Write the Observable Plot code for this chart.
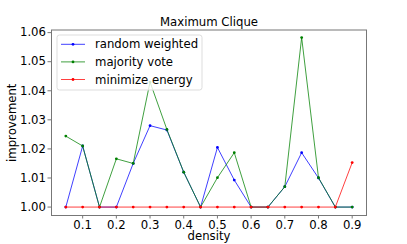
<!DOCTYPE html>
<html>
<head>
<meta charset="utf-8">
<script src="https://cdn.jsdelivr.net/npm/d3@7"></script>
<script src="https://cdn.jsdelivr.net/npm/@observablehq/plot@0.6"></script>
<style>
  html, body { margin: 0; padding: 0; background: #fff; }
  #chart { position: relative; width: 407px; height: 244px; }
</style>
</head>
<body>
<div id="chart"></div>
<script>
const title = "Maximum Clique";
const xLabel = "density";
const yLabel = "improvement";
const density = [0.05,0.1,0.15,0.2,0.25,0.3,0.35,0.4,0.45,0.5,0.55,0.6,0.65,0.7,0.75,0.8,0.85,0.9];
const randomWeighted = [1.000,1.021,1.000,1.000,1.015,1.028,1.0265,1.012,1.000,1.0205,1.0093,1.000,1.000,1.007,1.0187,1.010,1.000,1.000];
const majorityVote   = [1.0244,1.021,1.000,1.0166,1.015,1.043,1.0267,1.012,1.000,1.0101,1.0187,1.000,1.000,1.007,1.0583,1.0101,1.000,1.000];
const minimizeEnergy = [1.000,1.000,1.000,1.000,1.000,1.000,1.000,1.000,1.000,1.000,1.000,1.000,1.000,1.000,1.000,1.000,1.000,1.0153];
const seriesNames = ["random weighted","majority vote","minimize energy"];
const seriesColors = ["#0000ff","#008000","#ff0000"];
const xTicks = [0.1,0.2,0.3,0.4,0.5,0.6,0.7,0.8,0.9];
const yTicks = [1.00,1.01,1.02,1.03,1.04,1.05,1.06];

const allSeries = [randomWeighted, majorityVote, minimizeEnergy];
const rows = [];
allSeries.forEach((vals, si) => vals.forEach((v, i) => rows.push({series: seriesNames[si], x: density[i], y: v})));

const marks = [Plot.frame({stroke: "#777"})];
seriesNames.forEach((name, si) => {
  const d = rows.filter(r => r.series === name);
  marks.push(Plot.line(d, {x: "x", y: "y", stroke: seriesColors[si], strokeWidth: 1, strokeOpacity: 0.75}));
  marks.push(Plot.dot(d, {x: "x", y: "y", fill: seriesColors[si], r: 1.4, stroke: "none"}));
});
marks.push(Plot.axisX({ticks: xTicks, tickFormat: d3.format(".1f"), tickSize: 3.5, tickPadding: 2, stroke: "#777", fill: "#000",
  label: xLabel, labelAnchor: "center", labelArrow: "none", labelOffset: 24}));
marks.push(Plot.axisY({ticks: yTicks, tickFormat: d3.format(".2f"), tickSize: 3.5, tickPadding: 2, stroke: "#777", fill: "#000",
  label: yLabel, labelAnchor: "center", labelArrow: "none", labelOffset: 44}));
marks.push(Plot.text([title], {frameAnchor: "top", dy: -4, text: d => d, fill: "#000", lineAnchor: "bottom"}));

const plot = Plot.plot({
  width: 407, height: 244,
  marginLeft: 51, marginRight: 41, marginTop: 29.5, marginBottom: 29,
  x: {domain: [0.0075, 0.9425]},
  y: {domain: [0.9971, 1.0609]},
  style: {fontFamily: "DejaVu Sans", fontSize: "11.7px", background: "#fff", color: "#000"},
  marks
});
document.getElementById("chart").appendChild(plot);

// legend
const svg = d3.select(plot);
const lg = svg.append("g").attr("font-family", "DejaVu Sans").attr("font-size", "11.7px").attr("text-anchor", "start");
lg.append("rect").attr("x", 57).attr("y", 35).attr("width", 145).attr("height", 55).attr("rx", 2.5)
  .attr("fill", "#fff").attr("fill-opacity", 0.8).attr("stroke", "#ddd");
seriesNames.forEach((name, i) => {
  const cy = 44.3 + i * 17.6;
  lg.append("line").attr("x1", 61).attr("x2", 85).attr("y1", cy).attr("y2", cy).attr("stroke", seriesColors[i]).attr("stroke-opacity", 0.75);
  lg.append("circle").attr("cx", 73).attr("cy", cy).attr("r", 1.4).attr("fill", seriesColors[i]);
  lg.append("text").attr("x", 95).attr("y", cy).attr("dy", "0.35em").attr("text-anchor", "start").text(name);
});
</script>
</body>
</html>
